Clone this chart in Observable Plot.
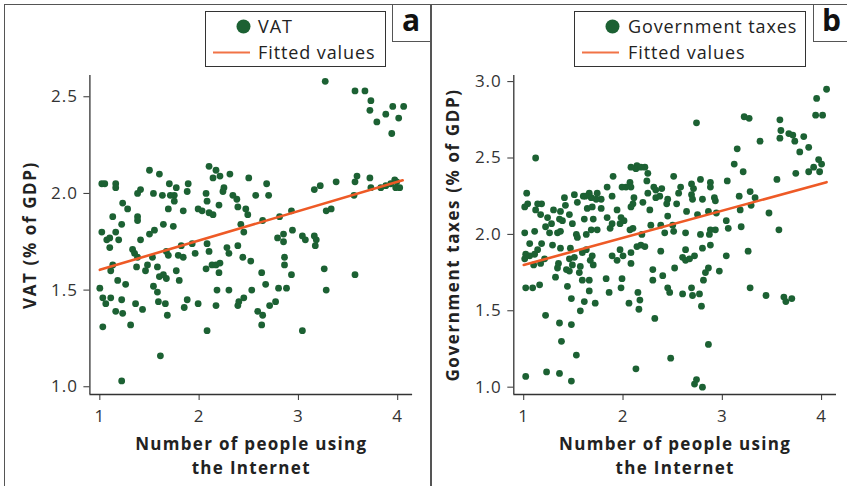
<!DOCTYPE html>
<html><head><meta charset="utf-8">
<script src="https://cdn.jsdelivr.net/npm/d3@7"></script>
<script src="https://cdn.jsdelivr.net/npm/@observablehq/plot@0.6"></script>
<style>
body{margin:0;background:#fff;}
#fig{position:relative;width:847px;height:486px;overflow:hidden;font-family:"Open Sans",sans-serif;color:#222;background:#fff;}
.panel{position:absolute;top:0;}
.ln{position:absolute;background:#555;}
.legend{position:absolute;border:1px solid #333;background:#fff;box-sizing:border-box;}
.lg-item{position:absolute;font-size:18px;line-height:20px;letter-spacing:0.9px;color:#222;white-space:nowrap;}
.letter{position:absolute;font-weight:bold;font-size:30px;color:#111;font-family:"Open Sans",sans-serif;}
</style>
</head><body>
<div id="fig"></div>
<script>
const xTicks = [1, 2, 3, 4];
const vatTicks = [1.0, 1.5, 2.0, 2.5];
const govTicks = [1.0, 1.5, 2.0, 2.5, 3.0];
const xLabel = "Number of people using\nthe Internet";
const vatLabel = "VAT (% of GDP)";
const govLabel = "Government taxes (% of GDP)";
const vatLegend = ["VAT", "Fitted values"];
const govLegend = ["Government taxes", "Fitted values"];

// [internet users, VAT % of GDP]
const vatPoints = [
[3.27,2.58],[3.57,2.53],[3.67,2.53],[3.73,2.48],[3.72,2.43],[3.95,2.45],[4.06,2.45],[3.79,2.37],[3.88,2.41],[4.01,2.39],[3.94,2.31],
[3.59,2.09],[3.57,2.06],[3.72,2.08],[3.73,2.03],[3.56,1.99],[3.83,2.03],[3.88,2.04],[3.93,2.05],[3.97,2.07],[3.99,2.06],[3.98,2.03],[4.02,2.03],
[3.38,2.06],[3.22,2.04],[3.16,2.02],[3.28,1.91],[3.33,1.92],
[2.68,2.05],[2.70,1.99],[2.57,1.99],[2.50,2.08],[2.47,1.92],[2.49,1.89],[2.39,1.93],[2.38,1.97],[2.34,1.99],[2.31,2.10],[2.25,2.03],[2.24,2.01],
[2.21,2.09],[2.17,2.12],[2.10,2.14],[2.14,2.08],[2.20,1.94],[2.07,2.00],[2.08,1.96],[1.99,1.92],[2.03,1.91],[2.10,1.90],[2.14,1.89],
[2.42,1.84],[2.45,1.80],[2.64,1.86],[2.81,1.88],[2.93,1.91],[2.94,1.81],[3.04,1.78],[3.07,1.76],[3.16,1.78],[3.18,1.76],[2.85,1.79],[2.79,1.77],[2.85,1.75],
[1.89,2.05],[1.88,2.01],[1.84,1.91],[1.77,2.03],[1.75,1.99],[1.75,1.96],[1.70,2.05],[1.71,1.99],[1.69,1.92],[1.63,1.99],[1.60,2.10],[1.54,2.00],[1.50,2.12],
[1.64,1.84],[1.74,1.83],[1.55,1.81],[1.50,1.79],[1.41,2.02],[1.38,2.00],[1.38,1.88],[1.38,1.86],[1.41,1.76],[1.28,1.92],[1.23,1.95],[1.22,1.84],
[1.16,2.05],[1.16,2.03],[1.19,1.76],[1.16,1.80],[1.13,1.88],[1.02,2.05],[1.05,2.05],[1.02,1.80],[1.07,1.76],[1.10,1.77],
[1.10,1.72],[1.13,1.63],[1.11,1.60],[1.00,1.51],[1.03,1.46],[1.06,1.43],[1.11,1.46],[1.03,1.31],[1.16,1.39],[1.18,1.55],[1.22,1.45],[1.23,1.38],
[1.26,1.53],[1.22,1.03],[1.31,1.32],[1.33,1.71],[1.35,1.69],[1.38,1.67],[1.37,1.62],[1.36,1.43],[1.43,1.40],[1.46,1.60],[1.48,1.63],[1.53,1.67],
[1.54,1.52],[1.58,1.49],[1.59,1.44],[1.58,1.62],[1.61,1.16],[1.60,1.57],[1.64,1.58],[1.67,1.56],[1.66,1.43],[1.68,1.37],[1.67,1.70],[1.69,1.68],
[1.79,1.68],[1.84,1.67],[1.77,1.60],[1.80,1.55],[1.82,1.73],[1.88,1.45],[1.85,1.41],[1.96,1.69],[1.93,1.74],[1.99,1.43],[2.07,1.61],[2.10,1.70],
[2.08,1.74],[2.08,1.29],[2.13,1.63],[2.17,1.63],[2.21,1.64],[2.20,1.59],[2.18,1.50],[2.17,1.42],[2.28,1.72],[2.30,1.69],[2.30,1.50],[2.39,1.73],
[2.44,1.67],[2.52,1.65],[2.40,1.44],[2.39,1.42],[2.45,1.46],[2.53,1.50],[2.63,1.59],[2.59,1.39],[2.64,1.37],[2.63,1.32],[2.67,1.53],[2.71,1.42],
[2.77,1.44],[2.80,1.51],[2.86,1.67],[2.86,1.63],[2.93,1.58],[2.88,1.51],[3.04,1.29],[3.17,1.73],[3.26,1.61],[3.28,1.50],[3.57,1.58]
];
const vatFit = [[1.0, 1.605], [4.05, 2.068]];

// [internet users, government taxes % of GDP]
const govPoints = [
[4.05,2.95],[3.95,2.89],[3.94,2.78],[4.01,2.78],[3.22,2.77],[3.27,2.76],[2.74,2.73],[3.58,2.75],[3.59,2.68],[3.58,2.63],[3.67,2.66],[3.71,2.65],
[3.73,2.61],[3.82,2.64],[3.38,2.61],[3.78,2.54],[3.87,2.57],[3.15,2.56],[3.12,2.46],[3.21,2.41],[3.97,2.49],[4.00,2.46],[3.92,2.44],[3.87,2.41],
[3.98,2.41],[3.74,2.40],[3.55,2.36],[3.05,2.35],[3.17,2.25],[3.28,2.28],[3.33,2.24],[3.18,2.16],[3.29,2.19],[3.47,2.14],[3.19,2.05],[3.57,2.03],
[3.04,2.09],[3.06,2.04],[1.12,2.50],[2.78,2.36],[2.69,2.33],[2.71,2.30],[2.88,2.34],[2.88,2.31],[2.51,2.38],[2.58,2.31],[2.56,2.27],[2.69,2.26],
[2.70,2.23],[2.80,2.23],[2.92,2.24],[2.93,2.22],[2.94,2.14],[2.86,2.15],[2.75,2.13],[2.64,2.15],[2.54,2.20],[2.45,2.23],[2.44,2.20],[2.39,2.30],
[2.31,2.31],[2.33,2.29],[2.33,2.24],[2.37,2.25],[2.25,2.40],[2.24,2.35],[2.22,2.44],[2.14,2.45],[2.13,2.43],[2.18,2.44],[2.08,2.44],[2.07,2.34],
[2.08,2.31],[2.03,2.31],[1.99,2.31],[1.90,2.38],[1.84,2.31],[1.89,2.25],[2.11,2.24],[2.10,2.20],[2.08,2.18],[2.20,2.21],[2.25,2.27],[2.27,2.16],
[2.45,2.12],[2.28,2.06],[2.38,2.06],[2.50,2.06],[2.51,2.02],[2.63,2.01],[2.42,2.01],[2.78,2.00],[2.88,2.03],[2.93,2.03],[2.87,2.00],[2.19,2.00],
[2.10,2.04],[2.07,2.03],[1.97,2.07],[1.94,2.16],[1.98,2.11],[2.01,2.09],[1.84,2.11],[1.78,2.17],[1.78,2.23],[1.73,2.23],[1.74,2.27],[1.66,2.27],
[1.68,2.24],[1.62,2.25],[1.60,2.25],[1.64,2.17],[1.69,2.18],[1.70,2.10],[1.68,2.03],[1.74,2.03],[1.63,2.00],[1.53,2.00],[1.54,1.98],[1.61,2.10],
[1.54,2.21],[1.51,2.26],[1.41,2.24],[1.42,2.19],[1.46,2.13],[1.37,2.15],[1.36,2.10],[1.39,2.09],[1.30,2.16],[1.28,2.07],[1.24,2.11],[1.22,2.05],
[1.26,2.01],[1.34,2.01],[1.37,2.02],[1.18,2.20],[1.14,2.20],[1.12,2.16],[1.17,2.13],[1.11,2.02],[1.03,2.27],[1.04,2.20],[1.01,2.18],[1.01,2.01],
[1.49,2.07],[1.89,2.07],[1.87,2.04],
[1.02,1.87],[1.01,1.84],[1.06,1.86],[1.11,1.87],[1.14,1.90],[1.06,1.94],[1.10,1.80],[1.17,1.81],[1.21,1.84],[1.18,1.94],[1.29,1.93],[1.37,1.91],
[1.35,1.81],[1.34,1.78],[1.32,1.72],[1.43,1.77],[1.46,1.84],[1.47,1.91],[1.49,1.80],[1.46,1.76],[1.51,1.85],[1.56,1.75],[1.57,1.79],[1.59,1.88],
[1.63,1.90],[1.67,1.83],[1.69,1.86],[1.70,1.80],[1.59,1.70],[1.66,1.70],[1.66,1.63],[1.72,1.55],[1.61,1.56],[1.57,1.50],[1.48,1.58],[1.44,1.66],
[1.16,1.67],[1.09,1.65],[1.02,1.65],[1.22,1.47],[1.36,1.42],[1.48,1.41],[1.38,1.30],[1.53,1.21],[1.02,1.07],[1.23,1.10],[1.36,1.09],[1.48,1.04],
[1.83,1.71],[1.86,1.62],[1.89,1.86],[1.94,1.83],[1.97,1.90],[2.00,1.86],[1.99,1.71],[1.98,1.65],[2.08,1.88],[2.08,1.81],[2.06,1.55],[2.15,1.62],
[2.17,1.57],[2.16,1.51],[2.13,1.12],[2.14,1.92],[2.18,1.93],[2.22,1.92],[2.30,1.77],[2.30,1.70],[2.32,1.45],[2.38,1.89],[2.40,1.73],[2.45,1.65],
[2.47,1.62],[2.48,1.19],[2.52,1.78],[2.60,1.61],[2.60,1.85],[2.63,1.90],[2.63,1.83],[2.67,1.84],[2.72,1.86],[2.69,1.65],[2.70,1.60],[2.77,1.61],
[2.80,1.91],[2.81,1.70],[2.83,1.75],[2.86,1.78],[2.79,1.53],[2.86,1.28],[2.88,1.93],[2.97,1.76],[3.04,1.86],[3.26,1.89],[3.28,1.65],[3.44,1.60],
[3.62,1.59],[3.64,1.56],[3.70,1.58],[2.72,1.02],[2.74,1.05],[2.80,1.00]
];
const govFit = [[1.0, 1.80], [4.05, 2.342]];

const GREEN = "#1c6133";
const ORANGE = "#ee5a26";
const FONT = '"Open Sans", sans-serif';

function panel({points, fit, yDomain, yTicks, yLabel, width, marginLeft, marginRight, yLabelX}) {
  return Plot.plot({
    width, height: 486, marginLeft, marginRight, marginTop: 75, marginBottom: 92,
    x: {domain: [0.9, 4.15]},
    y: {domain: yDomain},
    style: {fontFamily: FONT, color: "#333", background: "transparent", overflow: "visible"},
    marks: [
      Plot.ruleX([0.9], {stroke: "#333", strokeWidth: 1.3}),
      Plot.ruleY([yDomain[0]], {stroke: "#333", strokeWidth: 1.3}),
      Plot.axisX({ticks: xTicks, tickSize: 6, tickPadding: 9, fontSize: 17, label: null, tickFormat: d => String(d)}),
      Plot.axisY({ticks: yTicks, tickSize: 6, tickPadding: 6, fontSize: 17, label: null, tickFormat: d3.format(".1f")}),
      Plot.dot(points, {x: d => d[0], y: d => d[1], r: 3.4, fill: GREEN, stroke: null}),
      Plot.line(fit, {x: d => d[0], y: d => d[1], stroke: ORANGE, strokeWidth: 2.6}),
      Plot.text([yLabel], {text: d => d, frameAnchor: "left", textAnchor: "middle", lineAnchor: "middle", dx: yLabelX - marginLeft, rotate: -90,
        fontWeight: "bold", fontSize: 17, fill: "#222"}),
      Plot.text([xLabel], {text: d => d, frameAnchor: "bottom", textAnchor: "middle", dy: 60, lineAnchor: "middle", lineHeight: 1.4,
        fontWeight: "bold", fontSize: 17, fill: "#222"})
    ]
  });
}

function spacing(svg) {
  svg.querySelectorAll("text").forEach(t => {
    if (t.getAttribute("font-weight") === "bold" || (t.parentNode && t.parentNode.getAttribute && t.parentNode.getAttribute("font-weight") === "bold")) {
      const rotated = (t.getAttribute("transform") || "").includes("rotate");
      t.style.letterSpacing = rotated ? "1.6px" : "1.3px";
    } else {
      t.style.letterSpacing = "1px";
    }
  });
}

const fig = document.getElementById("fig");
const pa = panel({points: vatPoints, fit: vatFit, yDomain: [0.96, 2.61], yTicks: vatTicks, yLabel: vatLabel,
  width: 431, marginLeft: 89.4, marginRight: 18.9, yLabelX: 30});
pa.classList.add("panel"); pa.style.left = "0px";
fig.appendChild(pa);
const pb = panel({points: govPoints, fit: govFit, yDomain: [0.952, 3.04], yTicks: govTicks, yLabel: govLabel,
  width: 416, marginLeft: 82.3, marginRight: 11, yLabelX: 22});
pb.classList.add("panel"); pb.style.left = "431px";
fig.appendChild(pb);
spacing(pa); spacing(pb);

function add(html) { fig.insertAdjacentHTML("beforeend", html); }
// frame lines
add('<div class="ln" style="left:3.5px;top:3.5px;width:844px;height:1.5px"></div>');
add('<div class="ln" style="left:3.5px;top:3.5px;width:1.5px;height:483px"></div>');
add('<div class="ln" style="left:430px;top:3.5px;width:1.5px;height:483px"></div>');
add('<div class="ln" style="left:391.5px;top:3.5px;width:1.5px;height:38px"></div>');
add('<div class="ln" style="left:391.5px;top:40.5px;width:40px;height:1.5px"></div>');
add('<div class="ln" style="left:812.5px;top:3.5px;width:1.5px;height:38px"></div>');
add('<div class="ln" style="left:812.5px;top:40.5px;width:40px;height:1.5px"></div>');
add('<div class="letter" style="left:402px;top:-1px">a</div>');
add('<div class="letter" style="left:822px;top:-1px">b</div>');

function legend(left, width) {
  add(`<div class="legend" style="left:${left}px;top:11px;width:${width}px;height:56px"></div>`);
  add(`<svg style="position:absolute;left:0;top:0;overflow:visible" width="847" height="80">
    <circle cx="${left + 38.5}" cy="26.5" r="7" fill="${GREEN}"/>
    <line x1="${left + 8}" x2="${left + 45}" y1="52.5" y2="52.5" stroke="${ORANGE}" stroke-width="2.2" stroke-opacity="0.85"/>
  </svg>`);
}
legend(205, 181);
add(`<div class="lg-item" style="left:258px;top:16px">${vatLegend[0]}</div>`);
add(`<div class="lg-item" style="left:258px;top:42px">${vatLegend[1]}</div>`);
legend(574, 232);
add(`<div class="lg-item" style="left:628px;top:16px">${govLegend[0]}</div>`);
add(`<div class="lg-item" style="left:628px;top:42px">${govLegend[1]}</div>`);
</script>
</body></html>
